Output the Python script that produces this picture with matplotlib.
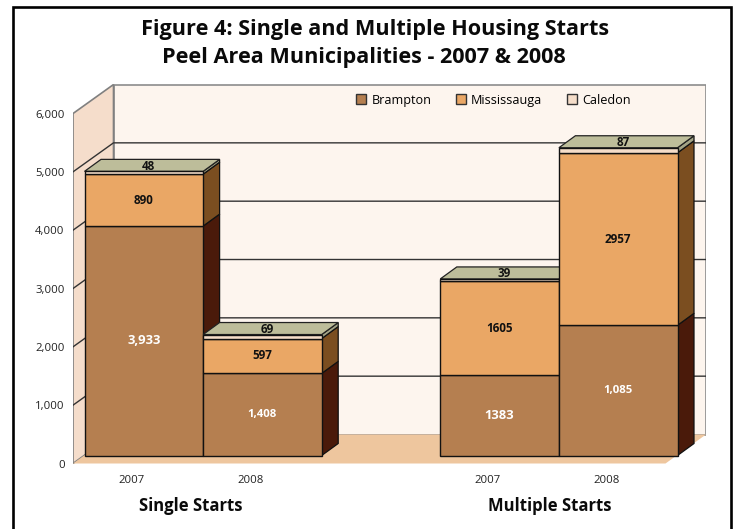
import matplotlib
matplotlib.use("Agg")
import matplotlib.pyplot as plt
from matplotlib.patches import Polygon, Patch
from matplotlib.lines import Line2D

plt.rcParams['font.family'] = ['Open Sans', 'DejaVu Sans']

positions = [0, 1, 3, 4]
years = ["2007", "2008", "2007", "2008"]
groups = ["Single Starts", "Multiple Starts"]
series_names = ["Brampton", "Mississauga", "Caledon"]

# heights as drawn, the last brampton bar is taller than its label says
brampton = [3933, 1408, 1383, 2232]
mississauga = [890, 597, 1605, 2957]
caledon = [48, 69, 39, 87]

brampton_labels = ["3,933", "1,408", "1383", "1,085"]
mississauga_labels = ["890", "597", "1605", "2957"]
caledon_labels = ["48", "69", "39", "87"]

yticks = [0, 1000, 2000, 3000, 4000, 5000, 6000]
ytick_labels = ["0", "1,000", "2,000", "3,000", "4,000", "5,000", "6,000"]

front_colors = ["#B57F50", "#EAA765", "#F5DDC9"]
side_colors = ["#4A1A0A", "#7B4E20", "#A3A385"]
top_color = "#BDBD9A"
brampton_sizes = [9.4, 8.2, 9.4, 8.2]

W, H = 735, 529
fig = plt.figure(figsize=(W / 100, H / 100), dpi=100)
ax = fig.add_axes([73 / W, 1 - 463.5 / H, (706 - 73) / W, (463.5 - 84) / H])

# one slot is 118.6 px wide, 1000 units are 58.33 px high
px_x = 1 / 118.6
px_y = 1000 / 58.33
x_left = -0.5 - 11.5 * px_x
x_right = x_left + 633 * px_x
ax.set_xlim(x_left, x_right)
ax.set_ylim(0, 379.5 * px_y)

wall_dx, wall_dy = 40.5 * px_x, 29 * px_y
bar_y0 = 8 * px_y
bar_dx, bar_dy = 16.5 * px_x, 12 * px_y
top = yticks[-1]

# walls and floor
ax.add_patch(Polygon([(x_left + wall_dx, wall_dy), (x_right, wall_dy), (x_right, top + wall_dy),
                      (x_left + wall_dx, top + wall_dy)],
                     fc="#FDF5EE", ec="#8C8C8C", lw=1.2, zorder=1))
ax.add_patch(Polygon([(x_left, 0), (x_left + wall_dx, wall_dy), (x_left + wall_dx, top + wall_dy), (x_left, top)],
                     fc="#F5DDCB", ec="#808080", lw=1.2, zorder=1))
ax.add_patch(Polygon([(x_left, 0), (x_right - wall_dx, 0), (x_right, wall_dy), (x_left + wall_dx, wall_dy)],
                     fc="#EEC69E", ec="none", zorder=1.5))
for t in yticks[1:-1]:
    ax.plot([x_left, x_left + wall_dx, x_right], [t, t + wall_dy, t + wall_dy], color="#333333", lw=1, zorder=2)

# bars, left to right so the later ones hide the earlier side faces
for i, p in enumerate(positions):
    left = p - 0.5
    bottom = bar_y0
    base = 3 + i
    for j, vals in enumerate([brampton, mississauga, caledon]):
        v = vals[i]
        ax.add_patch(Polygon([(left + 1, bottom), (left + 1 + bar_dx, bottom + bar_dy),
                              (left + 1 + bar_dx, bottom + v + bar_dy), (left + 1, bottom + v)],
                             fc=side_colors[j], ec="#111111", lw=0.9, zorder=base))
        ax.bar(left + 0.5, v, width=1, bottom=bottom, color=front_colors[j], edgecolor="#111111", lw=1, zorder=base + 0.2)
        bottom += v
    ax.add_patch(Polygon([(left, bottom), (left + 1, bottom), (left + 1 + bar_dx, bottom + bar_dy),
                          (left + bar_dx, bottom + bar_dy)],
                         fc=top_color, ec="#222222", lw=0.9, zorder=base + 0.1))
    cx = left + 0.5
    b = brampton[i]
    m = mississauga[i]
    ax.text(cx, bar_y0 + b / 2, brampton_labels[i], color="white", fontweight="bold", fontsize=brampton_sizes[i],
            ha="center", va="center", zorder=20)
    ax.text(cx, bar_y0 + b + m / 2, mississauga_labels[i], color="#111111", fontweight="bold", fontsize=8.4,
            ha="center", va="center", zorder=20)
    ax.text(cx + 5 * px_x, bottom + 5 * px_y, caledon_labels[i], color="#111111", fontweight="bold", fontsize=8.4,
            ha="center", va="center", zorder=20)

for s in ax.spines.values():
    s.set_visible(False)
ax.patch.set_visible(False)
ax.set_yticks(yticks, ytick_labels)
ax.set_xticks([p - 0.1 for p in positions], years)
ax.tick_params(axis="y", length=0, pad=6, labelsize=8.2, labelcolor="#222222")
ax.tick_params(axis="x", length=0, pad=8, labelsize=8.2, labelcolor="#222222")

handles = [Patch(fc=c, ec="#333333", lw=1) for c in front_colors]
leg = ax.legend(handles, series_names, ncol=3, frameon=False, fontsize=9.1, handlelength=0.8, handleheight=0.8,
                handletextpad=0.4, columnspacing=1.95, loc="center",
                bbox_to_anchor=((493.5 - 73) / 633, (463.5 - 100) / 379.5))
leg.set_zorder(30)

fig.text(375.5 / W, 1 - 30 / H, "Figure 4: Single and Multiple Housing Starts", fontsize=15.6, fontweight="bold",
         color="#0A0A0A", ha="center", va="center")
fig.text(364 / W, 1 - 57 / H, "Peel Area Municipalities - 2007 & 2008", fontsize=15.6, fontweight="bold",
         color="#0A0A0A", ha="center", va="center")
fig.text(191 / W, 1 - 506 / H, groups[0], fontsize=12, fontweight="bold", color="#0A0A0A", ha="center", va="center")
fig.text(550 / W, 1 - 506 / H, groups[1], fontsize=12, fontweight="bold", color="#0A0A0A", ha="center", va="center")

# frame has no bottom edge
fig.add_artist(Line2D([12.5 / W, 12.5 / W, 731 / W, 731 / W], [0, 1 - 7 / H, 1 - 7 / H, 0], color="black", lw=1.9,
                      transform=fig.transFigure, solid_joinstyle="miter"))

fig.savefig("out.png", dpi=100)
